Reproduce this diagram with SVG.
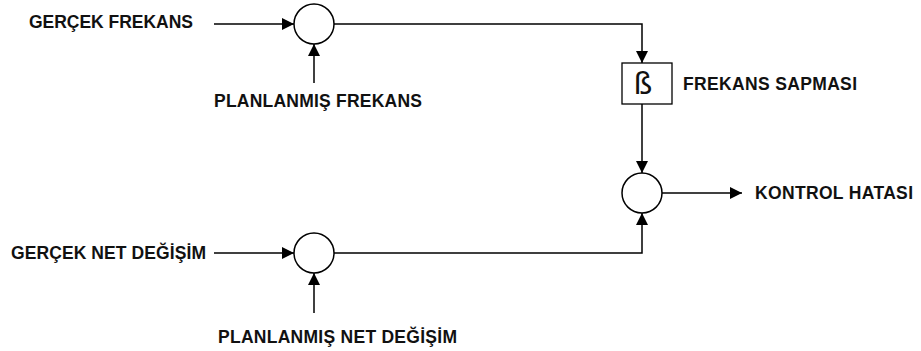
<svg xmlns="http://www.w3.org/2000/svg" width="921" height="351" viewBox="0 0 921 351">
  <defs>
    <marker id="arrow" markerWidth="12" markerHeight="12" refX="12" refY="6" orient="auto" markerUnits="userSpaceOnUse">
      <path d="M0,0 L12,6 L0,12 z" fill="#000"/>
    </marker>
    <style>
      .lbl { font-family: "Liberation Sans", Arial, sans-serif; font-weight: bold; font-size: 17.5px; fill: #111; }
      .sum { fill: #fff; stroke: #000; stroke-width: 1.5; }
      .blk { fill: #fff; stroke: #000; stroke-width: 1.3; }
      .wire { fill: none; stroke: #000; stroke-width: 1.5; marker-end: url(#arrow); }
      .beta { font-family: "DejaVu Sans", sans-serif; font-size: 30px; fill: #111; }
    </style>
  </defs>
  <rect width="921" height="351" fill="#fff"/>

  <g id="connectors">
    <line class="wire" x1="214" y1="24" x2="294" y2="24"/>
    <line class="wire" x1="314" y1="83" x2="314" y2="44"/>
    <polyline class="wire" points="334,24 642,24 642,63"/>
    <line class="wire" x1="642" y1="104" x2="642" y2="173"/>
    <line class="wire" x1="662" y1="193" x2="742" y2="193"/>
    <line class="wire" x1="214" y1="253" x2="294" y2="253"/>
    <line class="wire" x1="314" y1="313" x2="314" y2="273"/>
    <polyline class="wire" points="334,253 642,253 642,213"/>
  </g>

  <g id="input-actual-frequency">
    <text class="lbl" x="29" y="28" textLength="164" lengthAdjust="spacing">GERÇEK FREKANS</text>
  </g>
  <g id="input-planned-frequency">
    <text class="lbl" x="214" y="107" textLength="208" lengthAdjust="spacing">PLANLANMIŞ FREKANS</text>
  </g>
  <g id="sum-frequency">
    <circle class="sum" cx="314" cy="24" r="20"/>
  </g>
  <g id="bias-block">
    <rect class="blk" x="622" y="63" width="50" height="41"/>
    <text class="beta" x="643" y="94" text-anchor="middle">ß</text>
    <text class="lbl" x="683" y="90" textLength="174" lengthAdjust="spacing">FREKANS SAPMASI</text>
  </g>
  <g id="sum-control">
    <circle class="sum" cx="642" cy="193" r="20"/>
  </g>
  <g id="output-control-error">
    <text class="lbl" x="755" y="199" textLength="158" lengthAdjust="spacing">KONTROL HATASI</text>
  </g>
  <g id="input-actual-net">
    <text class="lbl" x="11" y="259" textLength="195" lengthAdjust="spacing">GERÇEK NET DEĞİŞİM</text>
  </g>
  <g id="input-planned-net">
    <text class="lbl" x="218" y="343" textLength="239" lengthAdjust="spacing">PLANLANMIŞ NET DEĞİŞİM</text>
  </g>
  <g id="sum-net">
    <circle class="sum" cx="314" cy="253" r="20"/>
  </g>
</svg>
